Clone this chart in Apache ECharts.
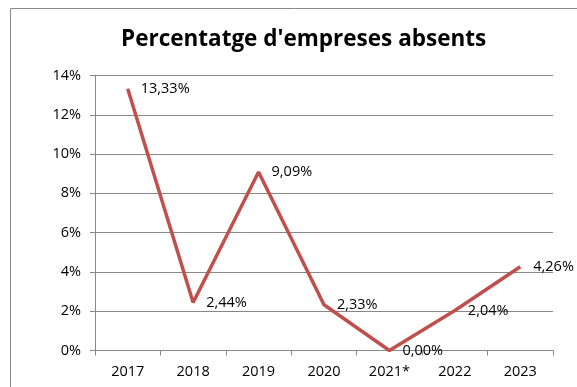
<!DOCTYPE html>
<html>
<head>
<meta charset="utf-8">
<script src="https://cdn.jsdelivr.net/npm/echarts@6/dist/echarts.min.js"></script>
<style>
    html, body { margin: 0; padding: 0; background: #fff; }
    #chart { width: 577px; height: 387px; }
</style>
</head>
<body>
<div id="chart"></div>
<script>
    // anys i valors (%)
    let years = ['2017', '2018', '2019', '2020', '2021*', '2022', '2023'];
    let absents = [13.33, 2.44, 9.09, 2.33, 0.00, 2.04, 4.26];
    let yTicks = [0, 2, 4, 6, 8, 10, 12, 14];

    let myChart = echarts.init(document.getElementById('chart'));
    let option = {
        backgroundColor: '#fff',
        animation: false,
        textStyle: { fontFamily: 'Open Sans' },
        title: {
            text: "Percentatge d'empreses absents",
            left: 116,
            top: 23,
            textStyle: {
                fontFamily: 'Open Sans',
                fontSize: 22.5,
                fontWeight: 'bold',
                color: '#000'
            }
        },
        graphic: [{
            // marc exterior
            type: 'rect',
            shape: { x: 10.5, y: 8.5, width: 700, height: 500 },
            style: { fill: 'none', stroke: '#888', lineWidth: 1 },
            silent: true
        }],
        grid: {
            left: 95,
            right: 24,
            top: 75.5,
            bottom: 36.5,
            containLabel: false
        },
        xAxis: {
            type: 'category',
            data: years,
            boundaryGap: true,
            axisLine: { lineStyle: { color: '#888', width: 1 } },
            axisTick: { show: true, length: 5, lineStyle: { color: '#888' } },
            axisLabel: { color: '#000', fontSize: 14.5, margin: 14 }
        },
        yAxis: {
            type: 'value',
            min: yTicks[0],
            max: yTicks[yTicks.length - 1],
            interval: 2,
            axisLine: { show: true, lineStyle: { color: '#888', width: 1 } },
            axisTick: { show: true, length: 5, lineStyle: { color: '#888' } },
            axisLabel: {
                color: '#000',
                fontSize: 14.5,
                margin: 14,
                formatter: '{value}%'
            },
            splitLine: { lineStyle: { color: '#888', width: 1 } }
        },
        series: [{
            type: 'line',
            data: absents,
            symbol: 'circle',
            symbolSize: 0,
            lineStyle: { color: '#C0504D', width: 3.5 },
            itemStyle: { color: '#C0504D' },
            label: {
                show: true,
                position: 'right',
                distance: 13,
                color: '#000',
                fontSize: 14.5,
                formatter: function (p) {
                    return p.value.toFixed(2).replace('.', ',') + '%';
                }
            }
        }]
    };
    myChart.setOption(option);
</script>
</body>
</html>
